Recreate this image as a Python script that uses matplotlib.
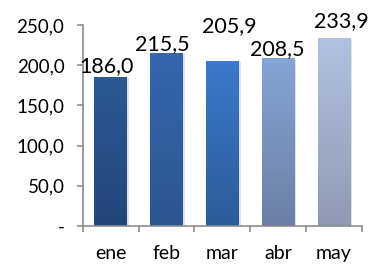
import numpy as np
import matplotlib
matplotlib.use("Agg")
import matplotlib.pyplot as plt
from matplotlib.colors import LinearSegmentedColormap

meses = ["ene", "feb", "mar", "abr", "may"]
valores = [186.0, 215.5, 205.9, 208.5, 233.9]
etiquetas = ["186,0", "215,5", "205,9", "208,5", "233,9"]
color_arriba = ["#2b5a94", "#3567b0", "#3b7acb", "#86a4d6", "#b0c2e0"]
color_abajo = ["#22467a", "#2b5690", "#2c5b9a", "#6a7fa5", "#8e9ab2"]
# where each data label sits relative to its bar top (points), as dragged in the original
desp_x = [-3, -3, 5, -1, 5]
desp_y = [7.5, 6.5, 25, 7, 12]

plt.rcParams['font.family'] = ['Lato', 'DejaVu Sans']

fig = plt.figure(figsize=(3.7, 2.64), dpi=100)
ax = fig.add_axes([0.224, 0.144, 0.754, 0.761])

x = np.arange(len(meses))
ancho = 0.59
barras = ax.bar(x, valores, width=ancho, color="none", edgecolor="none", zorder=2)

grad = np.linspace(1, 0, 256).reshape(-1, 1)
for i, b in enumerate(barras):
    cmap = LinearSegmentedColormap.from_list("g%d" % i, [color_abajo[i], color_arriba[i]])
    x0 = b.get_x()
    # soft shadow on the right
    ax.bar(x[i] + 0.03, valores[i], width=ancho, bottom=-1.5, color="#000000", alpha=0.12,
           edgecolor="none", zorder=1)
    im = ax.imshow(grad, cmap=cmap, aspect="auto", extent=(x0, x0 + ancho, 0, valores[i]),
                   zorder=2, interpolation="bilinear")
    im.set_clip_path(b)
    ax.annotate(etiquetas[i], (x[i], valores[i]), xytext=(desp_x[i], desp_y[i]),
                textcoords="offset points", ha="center", va="center", fontsize=15.5,
                color="#000000", zorder=3)

ax.set_xlim(-0.5, len(meses) - 0.5)
ax.set_ylim(0, 250)
ax.set_yticks([0, 50, 100, 150, 200, 250])
ax.set_yticklabels(["-", "50,0", "100,0", "150,0", "200,0", "250,0"])
ax.set_xticks(x)
ax.set_xticklabels(meses)
ax.set_xticks(np.arange(-0.5, len(meses)), minor=True)

for s in ["top", "right"]:
    ax.spines[s].set_visible(False)
for s in ["left", "bottom"]:
    ax.spines[s].set_color("#8c8c8c")
    ax.spines[s].set_linewidth(1.2)

ax.tick_params(axis="y", length=4.3, width=1.2, color="#8c8c8c", labelsize=13.5, pad=9)
ax.tick_params(axis="x", which="major", length=0, labelsize=14, pad=14)
ax.tick_params(axis="x", which="minor", length=4.3, width=1.2, color="#8c8c8c")

fig.savefig("out.png", dpi=100)
